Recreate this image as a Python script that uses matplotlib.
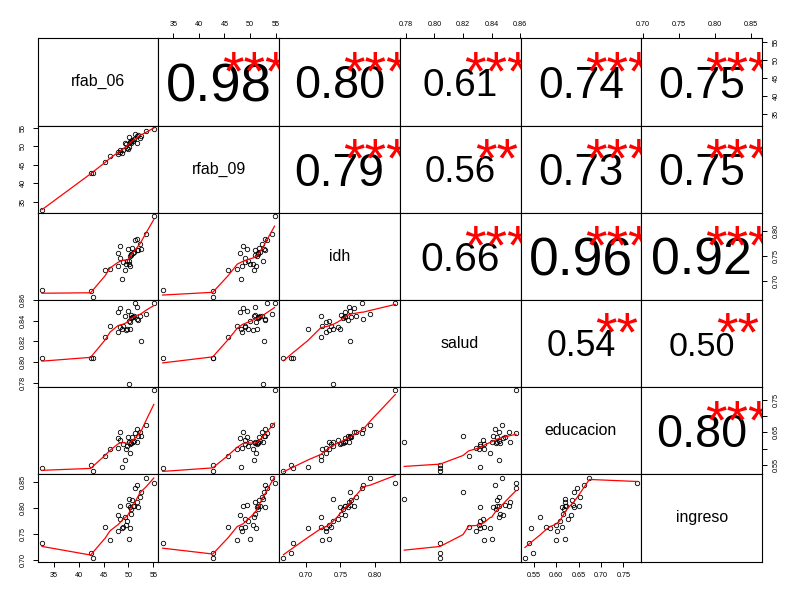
import numpy as np
import matplotlib
matplotlib.use("Agg")
import matplotlib.pyplot as plt
from matplotlib.transforms import offset_copy

plt.rcParams["font.family"] = ["Liberation Sans", "DejaVu Sans"]

var_names = ["rfab_06", "rfab_09", "idh", "salud", "educacion", "ingreso"]

rfab_06 = [53.5, 55.1, 51.7, 51.4, 52.6, 52.3, 50.1, 50.7, 51.8, 49.9, 50.9,
           51.1, 50.3, 48.4, 52.0, 50.5, 50.5, 47.8, 49.3, 48.4, 49.8, 49.5,
           45.3, 49.0, 48.8, 50.3, 47.9, 50.1, 46.3, 32.6, 42.4, 42.8]
rfab_09 = [54.3, 54.8, 52.9, 53.4, 52.8, 52.4, 52.6, 51.8, 51.0, 49.4, 51.5,
           52.0, 51.3, 48.6, 53.0, 51.6, 50.9, 48.0, 50.8, 49.1, 49.6, 50.6,
           45.7, 49.0, 48.3, 51.2, 48.4, 49.9, 47.5, 32.9, 42.7, 42.7]
idh = [0.793, 0.829, 0.783, 0.781, 0.764, 0.773, 0.739, 0.765, 0.762, 0.764,
       0.756, 0.757, 0.749, 0.769, 0.761, 0.753, 0.751, 0.756, 0.722, 0.746,
       0.739, 0.733, 0.722, 0.737, 0.703, 0.729, 0.729, 0.734, 0.724, 0.681,
       0.679, 0.668]
salud = [0.847, 0.857, 0.842, 0.857, 0.820, 0.845, 0.779, 0.844, 0.853, 0.849,
         0.844, 0.845, 0.832, 0.852, 0.841, 0.843, 0.846, 0.848, 0.845, 0.834,
         0.832, 0.831, 0.824, 0.835, 0.832, 0.839, 0.829, 0.840, 0.835, 0.804,
         0.804, 0.804]
educacion = [0.674, 0.780, 0.662, 0.647, 0.640, 0.652, 0.619, 0.635, 0.620,
             0.637, 0.619, 0.622, 0.613, 0.650, 0.640, 0.617, 0.616, 0.632,
             0.563, 0.626, 0.608, 0.599, 0.577, 0.613, 0.543, 0.586, 0.602,
             0.620, 0.599, 0.539, 0.549, 0.530]
ingreso = [0.859, 0.849, 0.844, 0.840, 0.832, 0.821, 0.818, 0.816, 0.812,
           0.807, 0.805, 0.805, 0.803, 0.804, 0.802, 0.798, 0.790, 0.787,
           0.783, 0.779, 0.776, 0.768, 0.765, 0.764, 0.762, 0.762, 0.757,
           0.741, 0.739, 0.734, 0.714, 0.704]

# upper panels, row by row (i < j)
cor_labels = ["0.98", "0.80", "0.61", "0.74", "0.75",
              "0.79", "0.56", "0.73", "0.75",
              "0.66", "0.96", "0.92",
              "0.54", "0.50",
              "0.80"]
cor_stars = ["***", "***", "***", "***", "***",
             "***", "**", "***", "***",
             "***", "***", "***",
             "**", "**",
             "***"]

tick_values = [
    [35, 40, 45, 50, 55],
    [35, 40, 45, 50, 55],
    [0.70, 0.75, 0.80],
    [0.78, 0.80, 0.82, 0.84, 0.86],
    [0.55, 0.60, 0.65, 0.70, 0.75],
    [0.70, 0.75, 0.80, 0.85],
]
tick_labels = [
    ["35", "40", "45", "50", "55"],
    ["35", "40", "45", "50", "55"],
    ["0.70", "0.75", "0.80"],
    ["0.78", "0.80", "0.82", "0.84", "0.86"],
    ["0.55", "0.60", "0.65", "0.70", "0.75"],
    ["0.70", "0.75", "0.80", "0.85"],
]
# right axis of educacion drops overlapping labels
educ_right_labels = ["0.55", "", "0.65", "", "0.75"]

columns = [rfab_06, rfab_09, idh, salud, educacion, ingreso]


def lowess(x, y, f=2/3, iters=3):
    """Plain port of R's lowess (no delta shortcut)."""
    x = np.asarray(x, float)
    y = np.asarray(y, float)
    order = np.argsort(x, kind="stable")
    x, y = x[order], y[order]
    n = len(x)
    ns = max(min(int(f * n + 1e-7), n), 2)
    rw = np.ones(n)
    fit = np.zeros(n)
    for it in range(iters + 1):
        for i in range(n):
            d = np.abs(x - x[i])
            h = np.sort(d)[ns - 1]
            w = np.zeros(n)
            if h > 0:
                inside = d <= 0.999 * h
                w[inside] = np.where(d[inside] <= 0.001 * h, 1.0,
                                     (1 - (d[inside] / h) ** 3) ** 3)
            else:
                w[d == 0] = 1.0
            w = w * rw
            if w.sum() <= 0:
                fit[i] = y[i]
                continue
            w = w / w.sum()
            xm = (w * x).sum()
            c = (w * (x - xm) ** 2).sum()
            if h > 0 and np.sqrt(c) > 0.001 * (x[-1] - x[0]):
                wt = w * (1 + (x - xm) * (x[i] - xm) / c)
            else:
                wt = w
            fit[i] = (wt * y).sum()
        if it == iters:
            break
        res = y - fit
        cmad = 6 * np.median(np.abs(res))
        if cmad < 1e-7 * np.mean(np.abs(y)):
            break
        u = np.abs(res) / cmad
        rw = np.where(u < 1, (1 - u ** 2) ** 2, 0.0)
        rw[u <= 0.001] = 1.0
    return x, fit


def limits(v):
    lo, hi = min(v), max(v)
    d = hi - lo
    return lo - 0.04 * d, hi + 0.04 * d


W, H, DPI = 800, 600, 100
fig = plt.figure(figsize=(W / DPI, H / DPI), dpi=DPI, facecolor="white")

left, right = 37.5 / W, 762.0 / W
bottom, top = 1 - 561.6 / H, 1 - 38.3 / H
nv = len(columns)
pw = (right - left) / nv
ph = (top - bottom) / nv
panel_px = pw * W

# R: cex = 0.8 / strwidth("0.xx"), "0.xx" is 1.946 em in Arial
base_em_pt = 0.89 * panel_px / 1.946 * 72 / DPI

TICK_FS = 5.2
tick_kw = dict(length=3.6, width=0.7, labelsize=TICK_FS, pad=4, colors="black")

k = 0
for i in range(nv):
    for j in range(nv):
        ax = fig.add_axes([left + j * pw, top - (i + 1) * ph, pw, ph])
        ax.set_xlim(*limits(columns[j]))
        ax.set_ylim(*limits(columns[i]))
        ax.set_xticks([])
        ax.set_yticks([])
        for s in ax.spines.values():
            s.set_linewidth(0.8)
            s.set_color("black")

        if i == j:
            ax.text(0.5, 0.5, var_names[i], transform=ax.transAxes,
                    ha="center", va="center", fontsize=11.4, color="black")
        elif i > j:
            x, y = columns[j], columns[i]
            ax.plot(x, y, "o", mfc="none", mec="black", ms=3.2, mew=0.6,
                    linestyle="none")
            lx, ly = lowess(x, y)
            ax.plot(lx, ly, color="red", linewidth=0.9)
        else:
            r = abs(float(cor_labels[k]))
            num_pt = base_em_pt * (r + 0.3) / 1.3
            tr = offset_copy(ax.transAxes, fig=fig, x=0, y=-0.355 * num_pt,
                             units="points")
            ax.text(0.5, 0.5, cor_labels[k], transform=tr, ha="center",
                    va="baseline", fontsize=num_pt, color="black",
                    clip_on=True)
            tr2 = offset_copy(ax.transAxes, fig=fig, x=0,
                              y=-0.575 * base_em_pt, units="points")
            ax.text(0.8, 0.78, cor_stars[k], transform=tr2, ha="center",
                    va="baseline", fontsize=base_em_pt, color="red",
                    clip_on=True)
            k += 1

        # axes in the R pairs() alternating layout
        if i == 0 and j % 2 == 1:
            ax.xaxis.tick_top()
            ax.set_xticks(tick_values[j])
            ax.set_xticklabels(tick_labels[j])
            ax.tick_params(axis="x", **tick_kw)
        if i == nv - 1 and j % 2 == 0:
            ax.set_xticks(tick_values[j])
            ax.set_xticklabels(tick_labels[j])
            ax.tick_params(axis="x", **tick_kw)
        if j == 0 and i % 2 == 1:
            ax.set_yticks(tick_values[i])
            ax.set_yticklabels(tick_labels[i], rotation=90, va="center")
            ax.tick_params(axis="y", **tick_kw)
        if j == nv - 1 and i % 2 == 0:
            ax.yaxis.tick_right()
            ax.set_yticks(tick_values[i])
            labs = educ_right_labels if i == 4 else tick_labels[i]
            ax.set_yticklabels(labs, rotation=90, va="center")
            ax.tick_params(axis="y", **tick_kw)

fig.savefig("out.png", dpi=DPI, facecolor="white")
plt.close(fig)
